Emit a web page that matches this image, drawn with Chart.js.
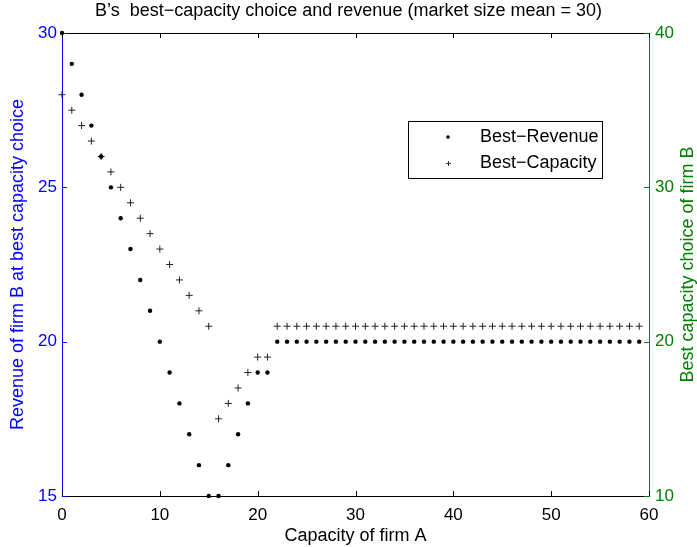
<!DOCTYPE html>
<html lang="en">
<head>
  <title>B's best-capacity choice and revenue</title>
  <script type="text/javascript" src="https://cdn.jsdelivr.net/npm/chart.js"></script>
  <style>
    body { margin: 0; background: #fff; }
  </style>
</head>
<body>
<canvas id="chart" width="697" height="547"></canvas>

<script>
  // Capacity of firm A (x values)
  const capacityA = [0, 1, 2, 3, 4, 5, 6, 7, 8, 9, 10, 11, 12, 13, 14, 15, 16, 17, 18, 19,
    20, 21, 22, 23, 24, 25, 26, 27, 28, 29, 30, 31, 32, 33, 34, 35, 36, 37, 38, 39,
    40, 41, 42, 43, 44, 45, 46, 47, 48, 49, 50, 51, 52, 53, 54, 55, 56, 57, 58, 59];

  // Revenue of firm B at its best capacity choice (left axis)
  const bestRevenue = [30, 29, 28, 27, 26, 25, 24, 23, 22, 21, 20, 19, 18, 17, 16, 15, 15, 16, 17, 18,
    19, 19, 20, 20, 20, 20, 20, 20, 20, 20, 20, 20, 20, 20, 20, 20, 20, 20, 20, 20,
    20, 20, 20, 20, 20, 20, 20, 20, 20, 20, 20, 20, 20, 20, 20, 20, 20, 20, 20, 20];

  // Best capacity choice of firm B (right axis)
  const bestCapacity = [36, 35, 34, 33, 32, 31, 30, 29, 28, 27, 26, 25, 24, 23, 22, 21, 15, 16, 17, 18,
    19, 19, 21, 21, 21, 21, 21, 21, 21, 21, 21, 21, 21, 21, 21, 21, 21, 21, 21, 21,
    21, 21, 21, 21, 21, 21, 21, 21, 21, 21, 21, 21, 21, 21, 21, 21, 21, 21, 21, 21];

  const xTicks = [0, 10, 20, 30, 40, 50, 60];
  const leftTicks = [15, 20, 25, 30];
  const rightTicks = [10, 20, 30, 40];

  const FONT = 'Liberation Sans, Arial, Helvetica, sans-serif';
  const BLUE = '#0000ff';
  const GREEN = '#008000';
  const RIGHT_LINE = '#1f6b55';
  const TEXT_SIZE = 18;
  const TICK_SIZE = 17;

  // inward tick marks, top frame line, right axis title and the legend box
  const framePlugin = {
    id: 'frame',
    beforeDatasetsDraw(chart) {
      const { ctx, chartArea: a, scales } = chart;
      const len = 5;
      ctx.save();
      ctx.lineWidth = 1;
      ctx.strokeStyle = '#000';
      ctx.beginPath();
      ctx.moveTo(a.left, a.top + 0.5);
      ctx.lineTo(a.right, a.top + 0.5);
      xTicks.forEach(v => {
        const px = Math.round(scales.x.getPixelForValue(v)) + 0.5;
        ctx.moveTo(px, a.bottom);
        ctx.lineTo(px, a.bottom - len);
        ctx.moveTo(px, a.top);
        ctx.lineTo(px, a.top + len);
      });
      ctx.stroke();

      ctx.strokeStyle = BLUE;
      ctx.beginPath();
      leftTicks.forEach(v => {
        const py = Math.round(scales.y.getPixelForValue(v)) + 0.5;
        ctx.moveTo(a.left, py);
        ctx.lineTo(a.left + len, py);
      });
      ctx.stroke();

      ctx.strokeStyle = GREEN;
      ctx.beginPath();
      rightTicks.forEach(v => {
        const py = Math.round(scales.y2.getPixelForValue(v)) + 0.5;
        ctx.moveTo(a.right, py);
        ctx.lineTo(a.right - len, py);
      });
      ctx.stroke();

      // right axis title reads bottom to top, like the left one
      ctx.translate(688, (a.top + a.bottom) / 2);
      ctx.rotate(-Math.PI / 2);
      ctx.fillStyle = GREEN;
      ctx.font = TEXT_SIZE + 'px ' + FONT;
      ctx.textAlign = 'center';
      ctx.textBaseline = 'middle';
      ctx.fillText('Best capacity choice of firm B', 0, 0);
      ctx.restore();
    },
    afterDatasetsDraw(chart) {
      const { ctx } = chart;
      const box = { x: 408, y: 121, w: 194, h: 57 };
      ctx.save();
      ctx.fillStyle = '#fff';
      ctx.fillRect(box.x, box.y, box.w, box.h);
      ctx.strokeStyle = '#000';
      ctx.lineWidth = 1;
      ctx.strokeRect(box.x + 0.5, box.y + 0.5, box.w, box.h);

      const mx = 448, tx = 480;
      const rows = [box.y + 16, box.y + 42];
      ctx.fillStyle = '#000';
      ctx.beginPath();
      ctx.arc(mx, rows[0], 1.8, 0, Math.PI * 2);
      ctx.fill();
      ctx.strokeStyle = '#333';
      ctx.beginPath();
      ctx.moveTo(mx - 2, rows[1] + 0.5);
      ctx.lineTo(mx + 3, rows[1] + 0.5);
      ctx.moveTo(mx + 0.5, rows[1] - 2);
      ctx.lineTo(mx + 0.5, rows[1] + 3);
      ctx.stroke();

      ctx.font = TEXT_SIZE + 'px ' + FONT;
      ctx.textBaseline = 'middle';
      ctx.fillText('Best\u2212Revenue', tx, rows[0]);
      ctx.fillText('Best\u2212Capacity', tx, rows[1]);
      ctx.restore();
    }
  };

  new Chart(document.getElementById('chart'), {
    type: 'scatter',
    data: {
      labels: capacityA,
      datasets: [
        {
          label: 'Best-Revenue',
          data: capacityA.map((x, i) => ({ x: x, y: bestRevenue[i] })),
          yAxisID: 'y',
          clip: false,
          pointStyle: 'circle',
          pointRadius: 2.2,
          pointBorderWidth: 0,
          backgroundColor: '#000',
          borderColor: '#000',
        },
        {
          label: 'Best-Capacity',
          data: capacityA.map((x, i) => ({ x: x, y: bestCapacity[i] })),
          yAxisID: 'y2',
          clip: false,
          pointStyle: 'cross',
          pointRadius: 3.5,
          pointBorderWidth: 1,
          backgroundColor: '#000',
          borderColor: '#222',
        },
      ],
    },
    plugins: [framePlugin],
    options: {
      responsive: false,
      animation: false,
      devicePixelRatio: 1,
      layout: { padding: 0 },
      plugins: {
        legend: { display: false },
        tooltip: { enabled: false },
        title: {
          display: true,
          text: 'B\u2019s  best\u2212capacity choice and revenue (market size mean = 30)',
          color: '#000',
          font: { family: FONT, size: TEXT_SIZE, weight: 'normal' },
          padding: { top: 0, bottom: 11.4 },
        },
      },
      scales: {
        x: {
          type: 'linear',
          min: 0,
          max: 60,
          afterFit(s) { s.height = 51; },
          afterBuildTicks(s) { s.ticks = xTicks.map(v => ({ value: v })); },
          grid: { display: false, drawTicks: false },
          border: { display: true, color: '#000', width: 1 },
          ticks: { color: '#000', padding: 9, font: { family: FONT, size: TICK_SIZE } },
          title: {
            display: true,
            text: 'Capacity of firm A',
            color: '#000',
            font: { family: FONT, size: TEXT_SIZE },
            padding: { top: 2.7, bottom: 0 },
          },
        },
        y: {
          type: 'linear',
          position: 'left',
          min: 15,
          max: 30,
          afterFit(s) { s.width = 62; },
          afterBuildTicks(s) { s.ticks = leftTicks.map(v => ({ value: v })); },
          grid: { display: false, drawTicks: false },
          border: { display: true, color: BLUE, width: 1 },
          ticks: { color: BLUE, padding: 5, font: { family: FONT, size: TICK_SIZE } },
          title: {
            display: true,
            text: 'Revenue of firm B at best capacity choice',
            color: BLUE,
            font: { family: FONT, size: TEXT_SIZE },
            padding: { top: 7.5, bottom: 0 },
          },
        },
        y2: {
          type: 'linear',
          position: 'right',
          min: 10,
          max: 40,
          afterFit(s) { s.width = 48; },
          afterBuildTicks(s) { s.ticks = rightTicks.map(v => ({ value: v })); },
          grid: { display: false, drawTicks: false },
          border: { display: true, color: RIGHT_LINE, width: 1 },
          ticks: { color: GREEN, padding: 6, font: { family: FONT, size: TICK_SIZE } },
          title: { display: false },
        },
      },
    },
  });
</script>

</body>
</html>
